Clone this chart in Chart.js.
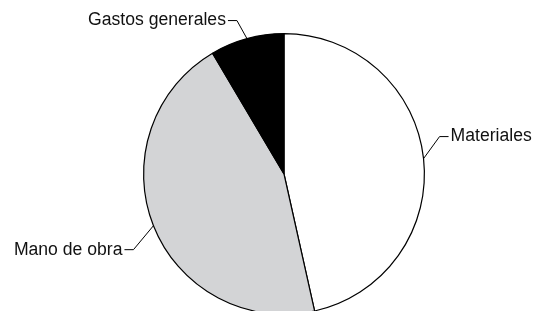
<!DOCTYPE html>
<html>
<head>
<meta charset="utf-8">
<script src="https://cdn.jsdelivr.net/npm/chart.js@4"></script>
<style>
  html, body { margin: 0; padding: 0; background: #fff; overflow: hidden; }
  #wrap { position: relative; width: 537px; height: 320px; }
</style>
</head>
<body>
<div id="wrap"><canvas id="myPie"></canvas></div>
<script>
// slices, clockwise from 12 o'clock
const categories = ["Materiales", "Mano de obra", "Gastos generales"];
const shares = [46.5, 45, 8.5];
const sliceColors = ["#ffffff", "#d3d4d6", "#000000"];

// leader line elbow offset from the slice's outer mid point, and which side the text goes
const leaderOffsets = [[16, -22], [-20, 24], [-10, -18]];
const leaderSides = ["right", "left", "left"];

const leaderLabels = {
    id: "leaderLabels",
    afterDatasetsDraw(chart) {
        const ctx = chart.ctx;
        const arcs = chart.getDatasetMeta(0).data;
        ctx.save();
        ctx.strokeStyle = "#000";
        ctx.lineWidth = 1;
        ctx.fillStyle = "#111";
        ctx.font = "17.6px 'Liberation Sans', Arial, sans-serif";
        ctx.textBaseline = "middle";
        arcs.forEach((arc, i) => {
            const mid = (arc.startAngle + arc.endAngle) / 2;
            const ax = arc.x + Math.cos(mid) * arc.outerRadius;
            const ay = arc.y + Math.sin(mid) * arc.outerRadius;
            const ex = ax + leaderOffsets[i][0];
            const ey = ay + leaderOffsets[i][1];
            const dir = leaderSides[i] === "right" ? 1 : -1;
            const hx = ex + dir * 9;
            ctx.beginPath();
            ctx.moveTo(ax, ay);
            ctx.lineTo(ex, ey);
            ctx.lineTo(hx, ey);
            ctx.stroke();
            ctx.textAlign = dir > 0 ? "left" : "right";
            ctx.fillText(categories[i], hx + dir * 2, ey);
        });
        ctx.restore();
    }
};

new Chart(document.getElementById("myPie"), {
    type: "pie",
    data: {
        labels: categories,
        datasets: [{
            data: shares,
            backgroundColor: sliceColors,
            borderColor: "#000",
            borderWidth: 1.2
        }]
    },
    options: {
        responsive: true,
        maintainAspectRatio: false,
        animation: false,
        layout: { padding: { top: 33, bottom: 5, left: 31, right: 0 } },
        plugins: {
            legend: { display: false },
            tooltip: { enabled: false }
        }
    },
    plugins: [leaderLabels]
});
</script>
</body>
</html>
